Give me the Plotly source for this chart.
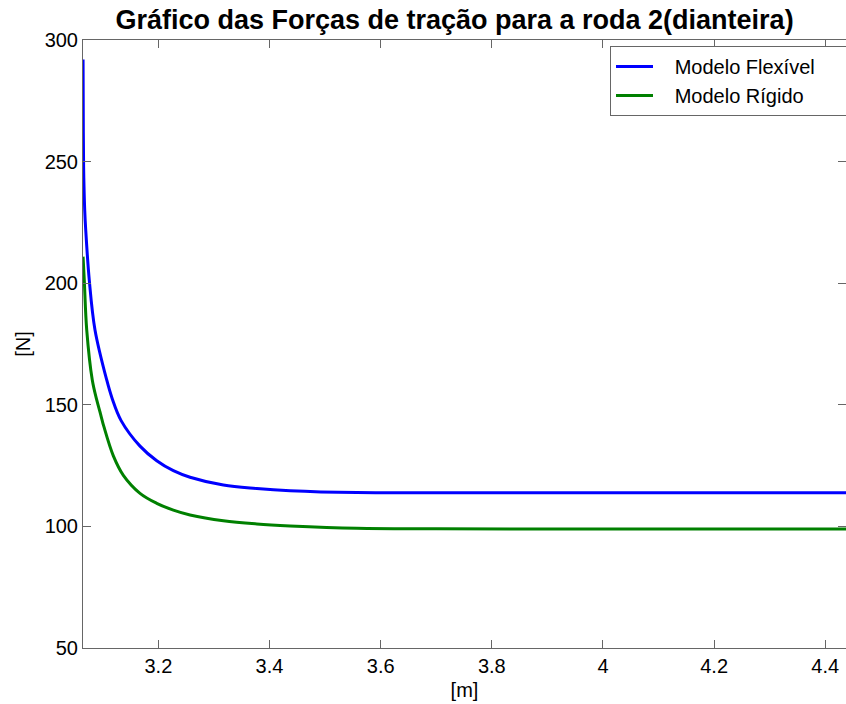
import plotly.graph_objects as go

# Data
x_flex = [3.0645, 3.0650, 3.0655, 3.0662, 3.0675, 3.0693, 3.0757, 3.0860, 3.1071,
          3.1170, 3.1330, 3.1670, 3.1971, 3.2270, 3.2570, 3.3170, 3.3771, 3.4370,
          3.5571, 3.7000, 4.0000, 4.4400]
y_flex = [292.0, 262.0, 248.0, 240.0, 230.0, 221.9, 201.3, 180.8, 160.2,
          152.5, 143.5, 133.0, 127.0, 122.9, 120.2, 117.0, 115.6, 114.7,
          113.9, 113.8, 113.8, 113.8]

x_rig = [3.0645, 3.0667, 3.0711, 3.0811, 3.0891, 3.0960, 3.1020, 3.1190, 3.1370,
         3.1670, 3.1971, 3.2270, 3.2570, 3.3170, 3.3771, 3.4370, 3.5571, 3.7000,
         4.0000, 4.4400]
y_rig = [210.9, 201.3, 180.8, 160.2, 152.0, 146.2, 141.0, 129.0, 121.0,
         113.6, 109.5, 106.7, 104.7, 102.3, 101.0, 100.2, 99.2, 99.0,
         98.9, 98.9]

x_ticks = [3.2, 3.4, 3.6, 3.8, 4.0, 4.2, 4.4]
x_tick_labels = ["3.2", "3.4", "3.6", "3.8", "4", "4.2", "4.4"]
y_ticks = [50, 100, 150, 200, 250, 300]

series_names = ["Modelo Flexível", "Modelo Rígido"]
title_text = "Gráfico das Forças de tração para a roda 2(dianteira)"

FONT = "Liberation Sans, Arial, Helvetica, sans-serif"
PAD = "\u00a0\u00a0\u00a0"
TAIL = "\u00a0" * 5

fig = go.Figure()
fig.add_trace(go.Scatter(x=x_flex, y=y_flex, mode="lines", name=PAD + series_names[0] + TAIL,
                         line=dict(color="#0000ff", width=3, shape="spline", smoothing=1.0)))
fig.add_trace(go.Scatter(x=x_rig, y=y_rig, mode="lines", name=PAD + series_names[1],
                         line=dict(color="#008000", width=3, shape="spline", smoothing=1.0)))

axis_common = dict(
    showgrid=False, zeroline=False, showline=True, linecolor="#666666", linewidth=1,
    mirror="ticks", ticks="inside", ticklen=8, tickcolor="#666666", tickwidth=1,
    tickfont=dict(family=FONT, size=20, color="black"),
)

fig.update_layout(
    width=846, height=704,
    margin=dict(l=83, r=0, t=40, b=56, autoexpand=False),
    paper_bgcolor="white", plot_bgcolor="white",
    title=dict(text=title_text, x=454.5 / 846, xref="container", xanchor="center",
               y=1 - 20 / 704, yref="container", yanchor="middle",
               font=dict(family=FONT, size=27, color="black", weight="bold")),
    xaxis=dict(range=[3.0644, 4.4373], tickvals=x_ticks, ticktext=x_tick_labels,
               title=dict(text="[m]", standoff=6,
                          font=dict(family=FONT, size=20, color="black")),
               ticklabelstandoff=0, **axis_common),
    yaxis=dict(range=[50, 300], tickvals=y_ticks,
               title=dict(text="[N]", standoff=8,
                          font=dict(family=FONT, size=20, color="black")),
               ticklabelstandoff=0, **axis_common),
    legend=dict(x=(610 - 83) / 763, y=(648 - 46) / 608, xanchor="left", yanchor="top",
                bgcolor="white", bordercolor="#666666", borderwidth=1,
                font=dict(family=FONT, size=20, color="black"),
                itemwidth=37),
    showlegend=True,
)

fig.write_html("out.html", config={"displayModeBar": False},
               post_script="document.body.style.margin='0px';")
